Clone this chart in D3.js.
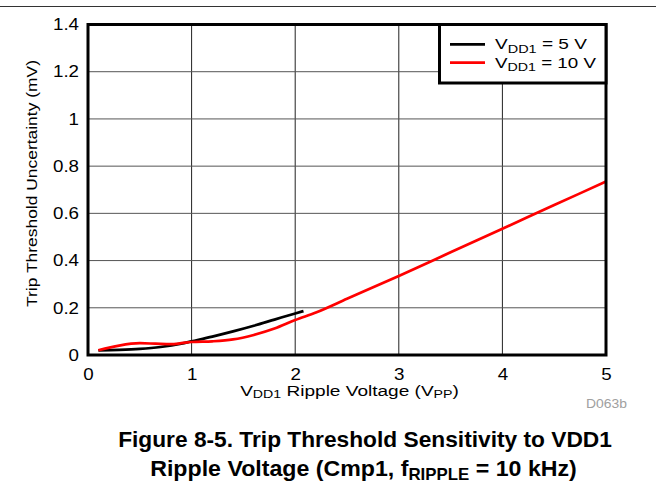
<!DOCTYPE html>
<html><head><meta charset="utf-8">
<script src="https://cdn.jsdelivr.net/npm/d3@7"></script>
<style>body{margin:0;background:#fff}svg{display:block;font-family:"Liberation Sans",Arial,sans-serif}</style>
</head><body>
<svg id="c" width="656" height="487"></svg>
<script>
const xTicks = [0, 1, 2, 3, 4, 5];
const yTicks = [0, 0.2, 0.4, 0.6, 0.8, 1, 1.2, 1.4];
const x5 = [0.1, 0.3, 0.5, 0.7, 0.9, 1.0, 1.2, 1.4, 1.6, 1.8, 2.0, 2.08];
const y5 = [0.02, 0.022, 0.026, 0.034, 0.048, 0.058, 0.078, 0.1, 0.124, 0.15, 0.176, 0.186];
const x10 = [0.1, 0.3, 0.5, 0.65, 0.8, 0.9, 1.0, 1.2, 1.4, 1.6, 1.8, 2.0, 2.2, 2.5, 3.0, 3.5, 4.0, 4.5, 5.0];
const y10 = [0.02, 0.04, 0.05, 0.048, 0.046, 0.05, 0.055, 0.058, 0.066, 0.085, 0.112, 0.148, 0.18, 0.238, 0.335, 0.435, 0.535, 0.635, 0.735];
const seriesNames = ["5 V", "10 V"];
const seriesColors = ["#000000", "#ff0000"];

const svg = d3.select("#c");
const L = 88, R = 606, T = 24.5, B = 355;
const x = d3.scaleLinear().domain([0, 5]).range([L, R]);
const y = d3.scaleLinear().domain([0, 1.4]).range([B, T]);

// place a text at (px,py) and stretch it horizontally to the target length
function place(t, px, py, target, rot) {
  t.attr("x", 0).attr("y", 0);
  const w = t.node().getComputedTextLength();
  const s = target / w;
  t.attr("transform", `translate(${px},${py})${rot ? " rotate(" + rot + ")" : ""} scale(${s},1)`);
}

// top rule
svg.append("line").attr("x1", 0).attr("x2", 656).attr("y1", 6.5).attr("y2", 6.5)
  .attr("stroke", "#333").attr("stroke-width", 1.2);

// grid
svg.append("g").selectAll("line").data(xTicks.slice(1, -1)).join("line")
  .attr("x1", d => x(d)).attr("x2", d => x(d)).attr("y1", T).attr("y2", B)
  .attr("stroke", "#222").attr("stroke-width", 1);
svg.append("g").selectAll("line").data(yTicks.slice(1, -1)).join("line")
  .attr("x1", L).attr("x2", R).attr("y1", d => y(d)).attr("y2", d => y(d))
  .attr("stroke", "#555").attr("stroke-width", 1);

// axes labels
const sx = 1.15;
const xa = svg.append("g").attr("transform", `translate(0,${B})`)
  .call(d3.axisBottom(x).tickValues(xTicks).tickFormat(d3.format("d")).tickSize(0).tickPadding(13.5));
xa.select(".domain").remove();
xa.selectAll("text").attr("font-size", 16.3).attr("fill", "#000")
  .attr("font-family", "Liberation Sans, Arial").attr("transform", `scale(${sx},1)`);
const ya = svg.append("g").attr("transform", `translate(${L},0)`)
  .call(d3.axisLeft(y).tickValues(yTicks).tickFormat(d => String(+d.toFixed(1))).tickSize(0).tickPadding(9));
ya.select(".domain").remove();
ya.selectAll("text").attr("font-size", 16.3).attr("fill", "#000")
  .attr("font-family", "Liberation Sans, Arial")
  .attr("x", -9 / sx).attr("transform", `scale(${sx},1)`);

// lines
const line = d3.line().x(d => x(d[0])).y(d => y(d[1])).curve(d3.curveMonotoneX);
const data = [d3.zip(x5, y5), d3.zip(x10, y10)];
svg.append("g").selectAll("path").data(data).join("path")
  .attr("d", line).attr("fill", "none")
  .attr("stroke", (d, i) => seriesColors[i]).attr("stroke-width", 2.7);

// frame
svg.append("rect").attr("x", L).attr("y", T).attr("width", R - L).attr("height", B - T)
  .attr("fill", "none").attr("stroke", "#000").attr("stroke-width", 3);

// legend
const lg = svg.append("g");
lg.append("rect").attr("x", 439.5).attr("y", T).attr("width", R - 439.5).attr("height", 58.5)
  .attr("fill", "#fff").attr("stroke", "#000").attr("stroke-width", 3);
const legLens = [92, 101];
seriesNames.forEach((n, i) => {
  const yy = 44.3 + i * 18.3;
  lg.append("line").attr("x1", 450).attr("x2", 485).attr("y1", yy).attr("y2", yy)
    .attr("stroke", seriesColors[i]).attr("stroke-width", 2.8);
  const t = lg.append("text").attr("font-size", 14.5);
  t.append("tspan").text("V");
  t.append("tspan").attr("font-size", 11).attr("dy", 3.5).text("DD1");
  t.append("tspan").attr("dy", -3.5).text(" = " + n);
  place(t, 495, yy + 5, legLens[i]);
});

// axis titles
const yt = svg.append("text").attr("text-anchor", "middle").attr("font-size", 15.5)
  .text("Trip Threshold Uncertainty (mV)");
place(yt, 37, 183.5, 247, -90);
const xt = svg.append("text").attr("text-anchor", "middle").attr("font-size", 14.8);
xt.append("tspan").text("V");
xt.append("tspan").attr("font-size", 11).attr("dy", 2.5).text("DD1");
xt.append("tspan").attr("dy", -2.5).text(" Ripple Voltage (V");
xt.append("tspan").attr("font-size", 11).attr("dy", 2.5).text("PP");
xt.append("tspan").attr("dy", -2.5).text(")");
place(xt, 349.5, 395.5, 219);

const dc = svg.append("text").attr("text-anchor", "middle")
  .attr("font-size", 13).attr("fill", "#a0a0a0").text("D063b");
place(dc, 606.5, 408, 41);

// caption
const c1 = svg.append("text").attr("text-anchor", "middle")
  .attr("font-size", 22).attr("font-weight", "bold").text("Figure 8-5. Trip Threshold Sensitivity to VDD1");
place(c1, 365, 447, 494);
const c2 = svg.append("text").attr("text-anchor", "middle")
  .attr("font-size", 22).attr("font-weight", "bold");
c2.append("tspan").text("Ripple Voltage (Cmp1, f");
c2.append("tspan").attr("font-size", 16).attr("dy", 4).text("RIPPLE");
c2.append("tspan").attr("dy", -4).text(" = 10 kHz)");
place(c2, 363.5, 476, 427);
</script>
</body></html>
